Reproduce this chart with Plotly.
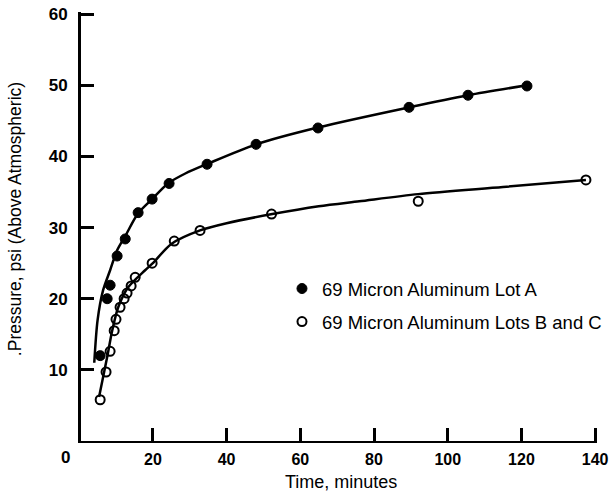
import plotly.graph_objects as go

# Measured points
lot_a_time = [5.7, 7.6, 8.4, 10.3, 12.5, 16.0, 19.8, 24.4, 34.7, 48.0, 64.8, 89.5, 105.5, 121.5]
lot_a_pressure = [12.0, 20.0, 21.9, 26.0, 28.4, 32.1, 34.0, 36.2, 38.9, 41.7, 44.0, 46.9, 48.6, 49.9]

lot_bc_time = [5.7, 7.3, 8.4, 9.5, 10.0, 11.1, 12.2, 13.0, 14.1, 15.2, 19.8, 25.8, 32.8, 52.2, 92.0, 137.5]
lot_bc_pressure = [5.8, 9.7, 12.6, 15.5, 17.1, 18.8, 20.0, 20.8, 21.8, 23.0, 25.0, 28.1, 29.6, 31.9, 33.7, 36.7]

# Hand-drawn fitted curves
curve_a_time = [4.1, 5.0, 6.5, 8.4, 10.3, 12.5, 16.0, 19.8, 24.1, 28.8, 35.0, 48.0, 65.0, 89.5, 105.5, 121.5]
curve_a_pressure = [11.0, 17.0, 21.2, 24.0, 26.8, 28.8, 32.0, 34.0, 36.2, 37.6, 39.0, 41.7, 44.1, 46.9, 48.6, 50.0]

curve_bc_time = [5.4, 7.6, 9.0, 10.6, 13.3, 17.9, 20.0, 25.0, 32.8, 40.0, 52.4, 65.0, 76.0, 92.0, 115.0, 137.5]
curve_bc_pressure = [6.2, 11.8, 15.6, 18.8, 21.6, 24.0, 25.0, 27.7, 29.6, 30.6, 31.9, 33.0, 33.7, 34.7, 35.7, 36.7]

x_ticks = [20, 40, 60, 80, 100, 120, 140]
y_ticks = [10, 20, 30, 40, 50, 60]

legend_a = "69 Micron Aluminum Lot A"
legend_bc = "69 Micron Aluminum Lots B and C"

FONT = "Liberation Sans, Arial, sans-serif"

fig = go.Figure()
fig.add_trace(go.Scatter(x=curve_a_time, y=curve_a_pressure, mode="lines",
                         line=dict(color="black", width=2.5, shape="spline", smoothing=0.8),
                         showlegend=False, hoverinfo="skip"))
fig.add_trace(go.Scatter(x=curve_bc_time, y=curve_bc_pressure, mode="lines",
                         line=dict(color="black", width=2.5, shape="spline", smoothing=0.8),
                         showlegend=False, hoverinfo="skip"))
fig.add_trace(go.Scatter(x=lot_a_time, y=lot_a_pressure, mode="markers", name=legend_a,
                         legendgroup="a",
                         marker=dict(symbol="circle", size=10, color="black",
                                     line=dict(color="black", width=1))))
fig.add_trace(go.Scatter(x=lot_bc_time, y=lot_bc_pressure, mode="markers", name=legend_bc,
                         legendgroup="b",
                         marker=dict(symbol="circle-open", size=9, color="black",
                                     line=dict(color="black", width=2))))

fig.update_layout(
    width=609, height=493,
    margin=dict(l=81, r=12, t=12, b=52, autoexpand=False),
    paper_bgcolor="white", plot_bgcolor="white",
    font=dict(family=FONT, size=17, color="black"),
    legend=dict(x=0.3895, y=0.3986, xanchor="left", yanchor="top",
                bgcolor="rgba(0,0,0,0)", traceorder="grouped", tracegroupgap=6,
                font=dict(family=FONT, size=18.5, color="black")),
    xaxis=dict(range=[0.5, 140.5], tickmode="array", tickvals=x_ticks,
               ticktext=[str(v) for v in x_ticks],
               ticks="inside", ticklen=13, tickwidth=3, tickcolor="black",
               showline=True, linewidth=2, linecolor="black", showgrid=False, zeroline=False,
               tickfont=dict(family=FONT, size=16, color="black", weight="bold"),
               ticklabelstandoff=3, ticklabeloverflow="allow"),
    yaxis=dict(range=[0, 60.3], tickvals=y_ticks, ticktext=[str(v) for v in y_ticks],
               ticks="inside", ticklen=13, tickwidth=3, tickcolor="black",
               showline=True, linewidth=3, linecolor="black", showgrid=False, zeroline=False,
               tickfont=dict(family=FONT, size=17, color="black", weight="bold"),
               ticklabelstandoff=7),
    annotations=[
        dict(text="0", x=-0.031, y=-0.0396, xref="paper", yref="paper", showarrow=False,
             xanchor="center", yanchor="middle",
             font=dict(family=FONT, size=17, weight="bold")),
        dict(text="Time, minutes", xref="paper", yref="paper", x=0.504, y=-0.0956,
             xanchor="center", yanchor="middle", showarrow=False,
             font=dict(family=FONT, size=18)),
        dict(text=".Pressure, psi (Above Atmospheric)", xref="paper", yref="paper",
             x=-0.128, y=0.517, xanchor="center", yanchor="middle", textangle=-90,
             showarrow=False, font=dict(family=FONT, size=17.5)),
    ],
)

fig.write_html("out.html")
